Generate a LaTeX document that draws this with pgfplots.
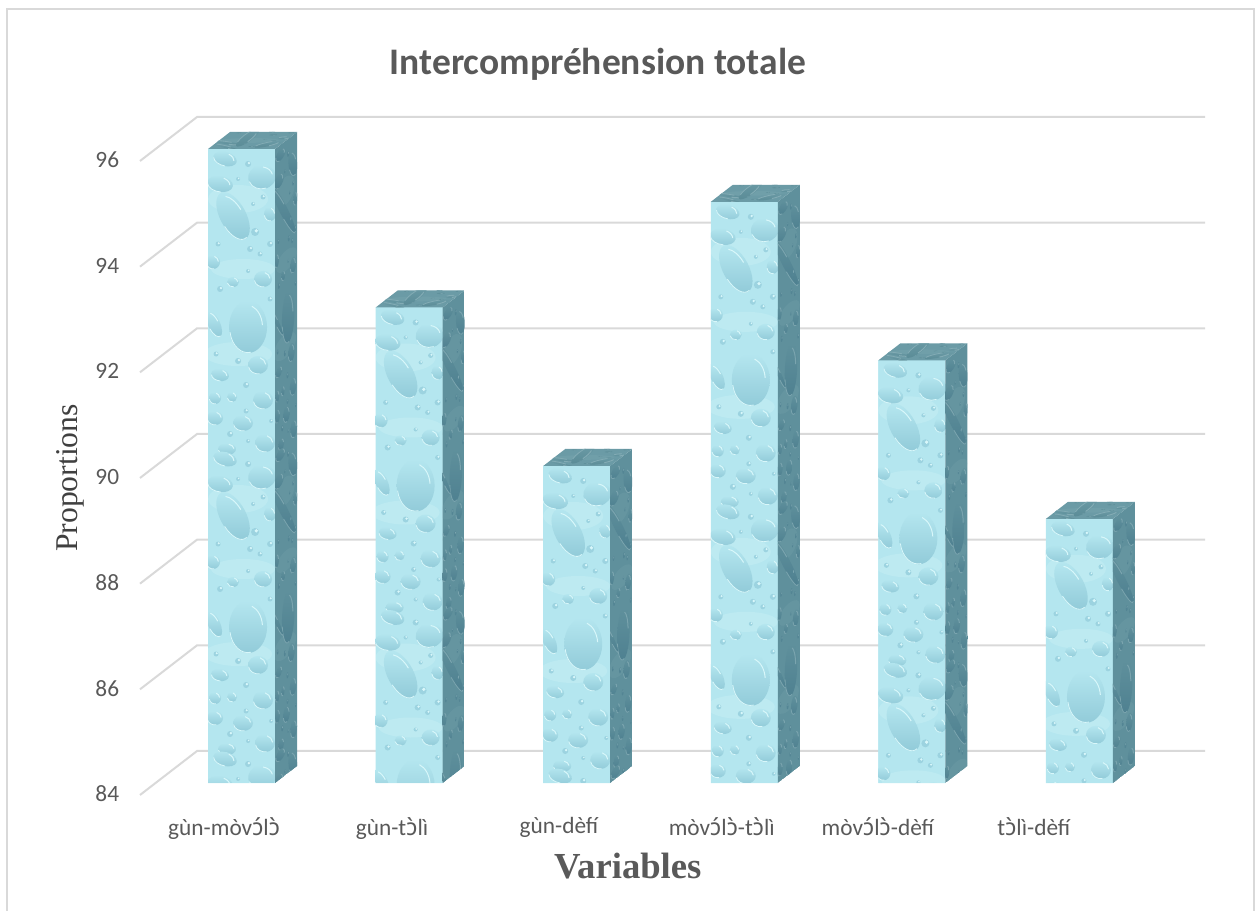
\documentclass[border=0pt]{standalone}
\usepackage{fontspec}
\usepackage{pgfplots}
\usepackage{pgfplotstable}
\pgfplotsset{compat=1.18}
\setmainfont{Carlito}
\newfontfamily\timesf{Liberation Serif}
\newfontfamily\ipaf{Noto Sans}

\definecolor{txt}{HTML}{595959}
\definecolor{gridc}{HTML}{D9D9D9}
\definecolor{framec}{HTML}{D9D9D9}
\definecolor{fbase}{HTML}{B4E6EF}
\definecolor{flight}{HTML}{D8F7FA}
\definecolor{fmid}{HTML}{92CBD9}
\definecolor{sbase}{HTML}{5F909C}
\definecolor{slight}{HTML}{7AA4AE}
\definecolor{smid}{HTML}{4E8090}
\definecolor{tbase}{HTML}{6B9BA6}
\definecolor{tlight}{HTML}{82ABB4}
\definecolor{tmid}{HTML}{5A8B96}

% one droplet: x, y, rx, ry, rotation (pixels of the tile, y downwards)
\newcommand{\drop}[5]{%
  \begin{scope}
    \pgftransformshift{\pgfpointxy{#1}{#2}}\pgftransformrotate{#5}
    \shade[draw=none,top color=dropa,bottom color=dropb] (0,0) ellipse[x radius=#3,y radius=#4];
    \draw[dropc,line width=.6pt] (.2*#3,-.8*#4) arc[start angle=-70,end angle=-5,x radius=.85*#3,y radius=.85*#4];
    \draw[dropc,line width=.5pt] (-.95*#3,.2*#4) arc[start angle=170,end angle=80,x radius=.95*#3,y radius=.95*#4];
  \end{scope}
}
% small bubble
\newcommand{\spk}[3]{\fill[draw=none,dropb!70!dropa] (#1,#2) circle[radius=#3];\fill[draw=none,dropc] (#1+.3*#3,#2-.3*#3) circle[radius=.45*#3];}
% the water tile, 67 wide and 300 tall, repeated from the top of each bar
\newcommand{\tile}{%
  \fill[draw=none,dropc,opacity=.25] (30,50) ellipse[x radius=30,y radius=14];
  \fill[draw=none,dropc,opacity=.25] (35,120) ellipse[x radius=32,y radius=10];
  \fill[draw=none,dropc,opacity=.25] (30,205) ellipse[x radius=34,y radius=12];
  \drop{17}{10}{12}{7}{-15}
  \drop{12}{35}{13}{8}{-10}
  \drop{54}{28}{14}{12}{10}
  \drop{25}{67}{13}{26}{28}
  \spk{47}{83}{4}
  \drop{62}{65}{6}{7}{0}
  \spk{40}{15}{3}
  \drop{5}{113}{7}{7}{0}
  \drop{25}{133}{6}{5}{0}
  \drop{55}{130}{9}{8}{0}
  \spk{42}{100}{3}
  \drop{40}{178}{19}{26}{0}
  \drop{6}{175}{6}{14}{25}
  \drop{12}{226}{9}{6}{-10}
  \drop{50}{216}{10}{9}{0}
  \drop{7}{249}{6}{6}{0}
  \drop{24}{248}{5}{5}{0}
  \drop{55}{251}{10}{9}{0}
  \drop{7}{269}{8}{7}{0}
  \drop{35}{274}{10}{8}{0}
  \drop{57}{294}{10}{9}{0}
  \drop{19}{300}{9}{6}{0}
  \spk{30}{212}{3}
  \spk{38}{236}{3}
  \spk{55}{48}{2.5}\spk{45}{55}{2}\spk{62}{95}{3}\spk{52}{105}{2.5}\spk{10}{95}{2.5}
  \spk{40}{122}{2}\spk{12}{140}{3}\spk{62}{150}{2.5}\spk{8}{205}{2.5}
  \spk{38}{262}{2.5}\spk{22}{285}{3}\spk{40}{292}{2}\spk{63}{272}{2}\spk{30}{30}{2}
}

% draws the water, side and top of a bar; the origin is the middle of its top edge
\pgfdeclareplotmark{waterbar}{%
  \pgfmathsetmacro{\h}{(\barval-84)*52.83}%
  \begin{scope}[x=.6pt,y=.6pt]
    % front face
    \begin{scope}
      \clip[draw=none] (-33.5,0) rectangle (33.5,-\h);
      \colorlet{dropa}{fbase}\colorlet{dropb}{fmid}\colorlet{dropc}{flight}
      \fill[draw=none,fbase] (-33.5,0) rectangle (33.5,-\h);
      \foreach \o in {0,300,600}{
        \begin{scope}
          \pgftransformshift{\pgfpointxy{-33.5}{-\o}}
          \pgfsetxvec{\pgfpoint{.6pt}{0pt}}\pgfsetyvec{\pgfpoint{0pt}{-.6pt}}
          \tile
        \end{scope}
      }
    \end{scope}
    % side face
    \begin{scope}
      \clip[draw=none] (33.5,0) -- (55.5,17) -- (55.5,17-\h) -- (33.5,-\h) -- cycle;
      \colorlet{dropa}{sbase}\colorlet{dropb}{smid}\colorlet{dropc}{slight}
      \fill[draw=none,sbase] (33.5,0) -- (55.5,17) -- (55.5,17-\h) -- (33.5,-\h) -- cycle;
      \foreach \o in {0,300,600}{
        \begin{scope}
          \pgftransformshift{\pgfpointxy{33.5}{-\o}}
          \pgfsetxvec{\pgfpoint{.197pt}{.152pt}}\pgfsetyvec{\pgfpoint{0pt}{-.6pt}}
          \tile
        \end{scope}
      }
    \end{scope}
    % top face
    \begin{scope}
      \clip[draw=none] (-33.5,0) -- (33.5,0) -- (55.5,17) -- (-11.5,17) -- cycle;
      \colorlet{dropa}{tbase}\colorlet{dropb}{tmid}\colorlet{dropc}{tlight}
      \fill[draw=none,tbase] (-33.5,0) -- (33.5,0) -- (55.5,17) -- (-11.5,17) -- cycle;
      \begin{scope}
        \pgftransformshift{\pgfpointxy{-33.5}{0}}
        \pgfsetxvec{\pgfpoint{.6pt}{0pt}}\pgfsetyvec{\pgfpoint{.132pt}{.102pt}}
        \tile
      \end{scope}
    \end{scope}
  \end{scope}
}

\pgfplotstableread{
i v
0 96
1 93
2 90
3 95
4 92
5 89
}\bars

% floor-to-wall grid lines, nan breaks the path
\pgfplotstableread{
x y
-0.606 83.773
-0.2655 84.606
5.749 84.606
nan nan
-0.606 85.773
-0.2655 86.606
5.749 86.606
nan nan
-0.606 87.773
-0.2655 88.606
5.749 88.606
nan nan
-0.606 89.773
-0.2655 90.606
5.749 90.606
nan nan
-0.606 91.773
-0.2655 92.606
5.749 92.606
nan nan
-0.606 93.773
-0.2655 94.606
5.749 94.606
nan nan
-0.606 95.773
-0.2655 96.606
5.749 96.606
}\gridlines

\begin{document}
\begin{tikzpicture}
  % page = 1255x911 px at .6pt per px, axis box starts at px (140,783)
  \path[use as bounding box] (-84pt,-76.8pt) rectangle (669pt,469.8pt);
  \draw[framec,line width=1.2pt] (-80pt,-76.8pt) -- (-80pt,464.4pt) -- (668.6pt,464.4pt) -- (668.6pt,-76.8pt);
  \begin{axis}[
    at={(0,0)},anchor=south west,
    scale only axis,
    width=639pt,height=380.4pt,
    xmin=-0.606,xmax=5.749,
    ymin=84,ymax=96,
    clip=false,
    axis line style={draw=none},
    major tick length=0pt,
    ytick={84,86,...,96},
    xtick={-0.104,0.898,1.894,2.866,3.797,4.728},
    xticklabels={g\`un-m\`ov{\ipaf ɔ́}l{\ipaf ɔ̀},g\`un-t{\ipaf ɔ̀}l\`i,g\`un-d\`ef\'i,m\`ov{\ipaf ɔ́}l{\ipaf ɔ̀}-t{\ipaf ɔ̀}l\`i,m\`ov{\ipaf ɔ́}l{\ipaf ɔ̀}-d\`ef\'i,t{\ipaf ɔ̀}l\`i-d\`ef\'i},
    /pgf/number format/assume math mode=true,
    yticklabel style={font=\fontsize{14}{16}\selectfont,text=txt,xshift=-9pt,yshift=-6.5pt},
    xticklabel style={font=\fontsize{14}{16}\selectfont,text=txt,yshift=-17pt},
    title={Intercompréhension totale},
    title style={font=\fontsize{22.5}{26}\selectfont\bfseries,text=txt,at={(axis description cs:0.430,1.118)},anchor=center},
    xlabel={Variables},
    xlabel style={font=\fontsize{22}{26}\selectfont\timesf\bfseries,text=txt,at={(axis description cs:0.458,-0.131)},anchor=center},
    ylabel={Proportions},
    ylabel style={font=\fontsize{19}{22}\selectfont\timesf,text=black!75,at={(axis description cs:-0.0650,0.481)},anchor=center},
  ]
    \addplot[gridc,line width=1.2pt,unbounded coords=jump,no marks] table[x=x,y=y]{\gridlines};
    \addplot[ybar,bar width=40.2pt,fill=fbase,draw=none] table[x=i,y=v]{\bars};
    \addplot[scatter,only marks,mark=waterbar,point meta=y,
      visualization depends on={y \as \barval},
      scatter/use mapped color={draw=none,fill=none}] table[x=i,y=v]{\bars};
  \end{axis}
\end{tikzpicture}
\end{document}
